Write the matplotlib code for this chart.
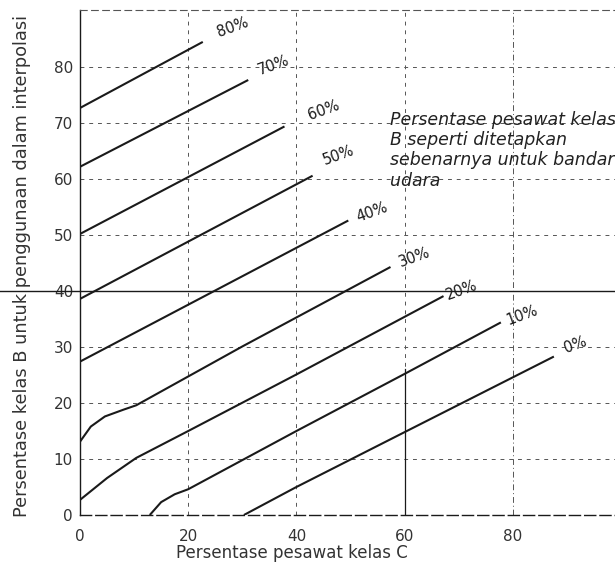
import matplotlib
matplotlib.use("Agg")
import matplotlib.pyplot as plt
import matplotlib.transforms as mtransforms
from matplotlib.lines import Line2D

# ---- data ----
line_names = ["80%", "70%", "60%", "50%", "40%", "30%", "20%", "10%", "0%"]
line_x = [
    [0, 22.7],
    [0, 31.1],
    [0, 37.8],
    [0, 43.0],
    [0, 49.6],
    [0, 2, 4.6, 8, 10.4, 30, 57.4],
    [0, 5, 10.4, 20, 40, 67.2],
    [12.9, 15, 17.5, 20, 40, 60, 77.8],
    [30.3, 40, 60, 87.6],
]
line_y = [
    [72.7, 84.5],
    [62.2, 77.7],
    [50.2, 69.4],
    [38.6, 60.6],
    [27.4, 52.6],
    [13.1, 15.8, 17.6, 18.8, 19.6, 30.1, 44.3],
    [2.7, 6.6, 10.2, 15.0, 25.1, 39.1],
    [0, 2.3, 3.7, 4.6, 15.0, 25.2, 34.4],
    [0, 5.0, 14.8, 28.3],
]
label_x = [28.3, 35.7, 45.0, 47.7, 54.0, 61.9, 70.6, 81.7, 91.5]
label_y = [87.1, 80.4, 72.3, 64.2, 54.1, 46.0, 40.2, 35.7, 30.4]
xticks = [0, 20, 40, 60, 80]
yticks = [0, 10, 20, 30, 40, 50, 60, 70, 80]
note = "Persentase pesawat kelas\nB seperti ditetapkan\nsebenarnya untuk bandar\nudara"
xlabel = "Persentase pesawat kelas C"
ylabel = "Persentase kelas B untuk penggunaan dalam interpolasi"

# ---- figure ----
W, H = 615, 569
fig = plt.figure(figsize=(W / 100, H / 100), dpi=100)
ax = fig.add_axes([80 / W, 54 / H, (W - 80) / W, 505 / H])
ax.set_xlim(0, 98.9)
ax.set_ylim(0, 90.2)

ink = "#1a1a1a"
grid_c = "#555555"

# grid (dotted/dashed, scanned look)
for gx in xticks[1:]:
    style = (0, (6, 3, 1, 3)) if gx == 80 else (0, (4, 5))
    ax.axvline(gx, color=grid_c, lw=0.7, ls=style, zorder=1)
for gy in yticks[1:]:
    ax.axhline(gy, color=grid_c, lw=0.7, ls=(0, (4, 5)), zorder=1)
# solid part of the x = 60 grid line visible in the scan
ax.plot([60, 60], [0, 26], color=ink, lw=0.9, zorder=1)

# curves
for xs, ys in zip(line_x, line_y):
    ax.plot(xs, ys, color=ink, lw=1.5, solid_capstyle="butt", zorder=3)

for name, lx, ly in zip(line_names, label_x, label_y):
    ax.text(lx, ly, name, fontsize=10.5, color=ink, rotation=20,
            ha="center", va="center", zorder=4)

# spines
ax.spines["right"].set_visible(False)
ax.spines["left"].set_linewidth(1.0)
ax.spines["left"].set_color(ink)
ax.spines["bottom"].set_linestyle((0, (8, 3)))
ax.spines["bottom"].set_linewidth(1.0)
ax.spines["bottom"].set_color(ink)
ax.spines["top"].set_linestyle((0, (6, 4)))
ax.spines["top"].set_linewidth(0.8)
ax.spines["top"].set_color(grid_c)

ax.set_xticks(xticks)
ax.set_yticks(yticks)
ax.tick_params(length=0, labelsize=11, colors="#333333")
ax.tick_params(axis="y", pad=5)
ax.tick_params(axis="x", pad=10)

ax.set_xlabel(xlabel, fontsize=12, color="#333333")
ax.xaxis.set_label_coords((292 - 80) / (W - 80), -(553 - 515) / 505)
ax.xaxis.label.set_va("center")

fig.text(22 / W, 1 - 517 / H, ylabel, rotation=90, fontsize=12.8,
         color="#333333", ha="center", va="bottom")

fig.text(390 / W, 1 - 111 / H, note, fontsize=12.5, style="italic",
         color="#222222", ha="left", va="top", linespacing=1.16)

# horizontal scan line across the whole page at y = 40
trans = mtransforms.blended_transform_factory(fig.transFigure, ax.transData)
fig.add_artist(Line2D([0, 1], [40, 40], transform=trans, color=ink, lw=1.0))

fig.savefig("out.png", dpi=100)
